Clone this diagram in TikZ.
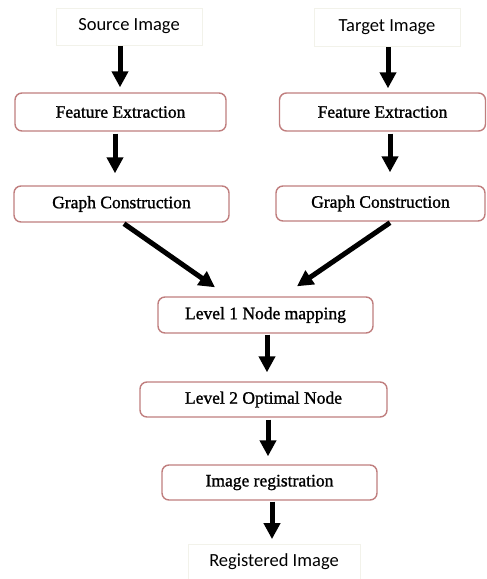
\documentclass[tikz,border=0pt]{standalone}
\usepackage{fontspec}
\newfontfamily\boxfont{Liberation Serif}[FakeBold=1.2]
\newfontfamily\carl{Carlito}
\usetikzlibrary{arrows.meta}
\definecolor{boxred}{RGB}{192,126,126}
\definecolor{faint}{RGB}{242,242,234}
\tikzset{
  procbox/.style={draw=boxred, line width=1.4pt, rounded corners=7pt, fill=white,
    inner sep=0pt, font=\boxfont\fontsize{17.5}{20}\selectfont},
  iobox/.style={draw=faint, line width=0.8pt, inner sep=0pt, font=\carl\fontsize{18.5}{21}\selectfont},
  arr/.style={line width=5pt, -{Triangle[length=16pt,width=16pt]}},
}
\begin{document}
\begin{tikzpicture}[x=1pt,y=-1pt]
\useasboundingbox (0,0) rectangle (487,579);
\node[iobox, minimum width=146pt, minimum height=37pt] (src) at (129,26.5) {Source Image\hspace{8pt}};
\node[iobox, minimum width=146pt, minimum height=38pt] (tgt) at (387,27) {Target Image\hspace{8pt}};
\node[procbox, minimum width=211pt, minimum height=38pt] (fe1) at (120.5,112) {Feature Extraction};
\node[procbox, minimum width=206pt, minimum height=38pt] (fe2) at (382.5,112) {Feature Extraction};
\node[procbox, minimum width=215pt, minimum height=36pt] (gc1) at (121.5,204) {Graph Construction};
\node[procbox, minimum width=209pt, minimum height=35pt] (gc2) at (380.5,203.5) {Graph Construction};
\node[procbox, minimum width=215pt, minimum height=36pt] (l1) at (265.5,315) {Level 1 Node mapping};
\node[procbox, minimum width=247pt, minimum height=35pt] (l2) at (263.5,399.5) {Level 2 Optimal Node};
\node[procbox, minimum width=215pt, minimum height=35pt] (ir) at (269.5,482.5) {Image registration};
\node[iobox, minimum width=172pt, minimum height=35pt] (reg) at (274,562) {Registered Image\hspace{8pt}};

\draw[arr] ([shift={(-9,0.5)}]src.south) -- ([shift={(-0.5,-5)}]fe1.north);
\draw[arr] ([shift={(1,1)}]tgt.south) -- ([shift={(5.5,-4)}]fe2.north);
\draw[arr] ([shift={(-5.5,2)}]fe1.south) -- ([shift={(-6.5,-12)}]gc1.north);
\draw[arr] ([shift={(7.5,2)}]fe2.south) -- ([shift={(9.5,-13)}]gc2.north);
\draw[arr] ([shift={(2.5,1)}]gc1.south) -- ([shift={(-50.5,-9)}]l1.north);
\draw[arr] ([shift={(9.5,1)}]gc2.south) -- ([shift={(31.5,-10)}]l1.north);
\draw[arr] ([shift={(1.5,1)}]l1.south) -- ([shift={(3.5,-9)}]l2.north);
\draw[arr] ([shift={(4.5,2)}]l2.south) -- ([shift={(-1.5,-8)}]ir.north);
\draw[arr] ([shift={(2.5,1)}]ir.south) -- ([shift={(-2,-5)}]reg.north);
\end{tikzpicture}
\end{document}
